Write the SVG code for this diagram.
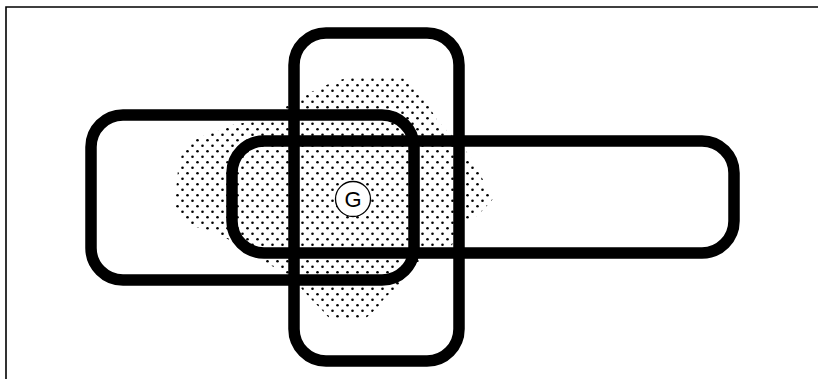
<svg xmlns="http://www.w3.org/2000/svg" width="818" height="379" viewBox="0 0 818 379">
<defs>
<pattern id="dots" width="10" height="11" patternUnits="userSpaceOnUse">
<circle cx="2.5" cy="2.75" r="1.3" fill="#000"/>
<circle cx="7.5" cy="8.25" r="1.3" fill="#000"/>
</pattern>
</defs>
<style>
.frame{fill:none;stroke:#000;stroke-width:1.6}
.set{fill:none;stroke:#000;stroke-width:11.5}
.g{fill:#fff;stroke:#000;stroke-width:1.3}
.lbl{font-family:"Liberation Sans",Arial,sans-serif;font-size:22px;fill:#000}
</style>
<path class="frame" d="M6,379 V7 H818"/>
<g id="shade">
<polygon fill="url(#dots)" points="350,77 393,77 407,79 415,86 421,93 427,103 437,120 448,132 455,138 465,150 475,163 483,180 493,199 483,210 470,222 460,232 452,245 440,252 425,258 414,264 408,276 400,287 390,293 383,300 377,308 365,319 330,319 320,308 310,298 300,287 285,273 270,265 255,257 240,246 217,233 193,226 183,217 176,207 176,190 178,170 181,157 185,145 197,138 215,132 235,124 260,121 286,106 300,97 318,89 333,82"/>
</g>
<g id="connectors"></g>
<g id="set-left">
<rect class="set" x="91" y="115" width="323" height="165" rx="32" ry="32"/>
</g>
<g id="set-right">
<rect class="set" x="232" y="141" width="502" height="112" rx="32" ry="32"/>
</g>
<g id="set-vertical">
<rect class="set" x="294" y="33" width="165" height="328" rx="32" ry="32"/>
</g>
<g id="node-G">
<circle class="g" cx="353" cy="199" r="17.5"/>
<text class="lbl" x="353" y="207" text-anchor="middle">G</text>
</g>
</svg>
